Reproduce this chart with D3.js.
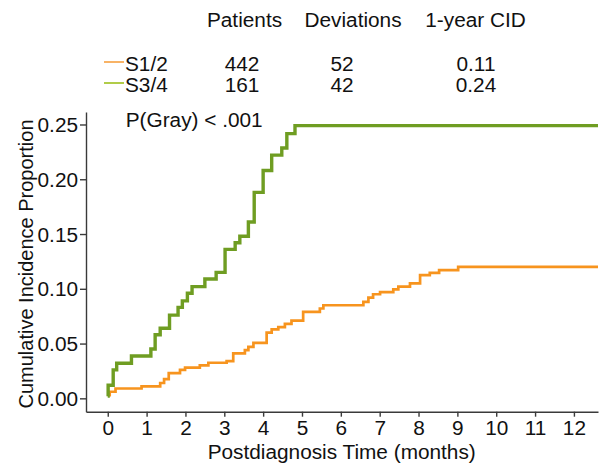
<!DOCTYPE html>
<html>
<head>
<meta charset="utf-8">
<script src="https://cdn.jsdelivr.net/npm/d3@7"></script>
<style>
  body { margin: 0; background: #fff; }
  svg text { font-family: "Liberation Sans", Arial, sans-serif; fill: #111; }
  .axis path, .axis line { stroke: #3a3a3a; stroke-width: 1.4px; }
</style>
</head>
<body>
<div id="chart"></div>
<script>
// cumulative incidence
var groups = ["S1/2", "S3/4"]
var patients = [442, 161]
var deviations = [52, 42]
var cid1y = ["0.11", "0.24"]
var headers = ["Patients", "Deviations", "1-year CID"]

var s12Times = [0, 0.05, 0.2, 0.87, 1.35, 1.45, 1.57, 1.86, 1.99, 2.37, 2.59, 3.06, 3.23, 3.53, 3.62, 3.75, 4.09, 4.22, 4.39, 4.56, 4.73, 5.03, 5.46, 5.55, 6.58, 6.71, 6.83, 7.01, 7.35, 7.48, 7.78, 8.04, 8.29, 8.53, 9.02]
var s12Values = [0.003, 0.006, 0.009, 0.011, 0.014, 0.0176, 0.023, 0.026, 0.028, 0.030, 0.0325, 0.034, 0.041, 0.044, 0.047, 0.0507, 0.060, 0.063, 0.065, 0.068, 0.071, 0.079, 0.082, 0.085, 0.088, 0.092, 0.095, 0.097, 0.0994, 0.102, 0.105, 0.1125, 0.1145, 0.117, 0.120]

var s34Times = [0, 0.01, 0.14, 0.23, 0.61, 1.11, 1.22, 1.35, 1.59, 1.81, 1.92, 2.05, 2.17, 2.50, 2.79, 3.02, 3.28, 3.40, 3.62, 3.77, 4.00, 4.22, 4.48, 4.61, 4.82]
var s34Values = [0.002, 0.012, 0.026, 0.032, 0.0386, 0.045, 0.058, 0.064, 0.076, 0.083, 0.089, 0.096, 0.102, 0.109, 0.115, 0.136, 0.142, 0.148, 0.161, 0.188, 0.208, 0.222, 0.2286, 0.2417, 0.249]

var xTicks = [0, 1, 2, 3, 4, 5, 6, 7, 8, 9, 10, 11, 12]
var yTicks = [0, 0.05, 0.10, 0.15, 0.20, 0.25]

var lineColors = ["#f7941e", "#6f9d22"]
var legendColors = ["#f8ab55", "#a9c735"]

var width = 600, height = 463
var fs = "20px"
var sx = 1.04 // text in the picture is a little wide

const svg = d3.select("#chart").append("svg")
    .attr("width", width)
    .attr("height", height)

var xMax = 12.62
var x = d3.scaleLinear().domain([-0.56, xMax]).range([86, 598])
var y = d3.scaleLinear().domain([-0.0122, 0.2614]).range([411.7, 112])

function label(x0, y0, s, anchor) {
    return svg.append("text")
        .attr("transform", "translate(" + x0 + "," + y0 + ") scale(" + sx + ",1)")
        .attr("text-anchor", anchor || "start")
        .style("font-size", fs)
        .text(s)
}

// axes
svg.append("g")
    .attr("class", "axis")
    .attr("transform", "translate(0,411.7)")
    .call(d3.axisBottom(x).tickValues(xTicks).tickSize(5).tickSizeOuter(0))
    .call(g => g.selectAll("text")
        .attr("y", 23.5).attr("dy", 0)
        .attr("transform", "scale(" + sx + ",1)")
        .style("font-size", fs))

svg.append("g")
    .attr("class", "axis")
    .attr("transform", "translate(86,0)")
    .call(d3.axisLeft(y).tickValues(yTicks).tickSize(6).tickSizeOuter(0).tickFormat(d3.format(".2f")))
    .call(g => g.selectAll("text")
        .attr("x", -8 / sx).attr("dy", "0.35em")
        .attr("transform", "scale(" + sx + ",1)")
        .style("font-size", fs))

svg.selectAll(".axis text").attr("fill", "#111")

// axis titles
label(341.7, 459, "Postdiagnosis Time (months)", "middle")
svg.append("text")
    .attr("transform", "translate(33,264) rotate(-90)")
    .attr("text-anchor", "middle")
    .style("font-size", fs)
    .text("Cumulative Incidence Proportion")

// step curves
var step = d3.line()
    .x(d => x(d[0]))
    .y(d => y(d[1]))
    .curve(d3.curveStepAfter)

var series = [
    d3.zip(s12Times, s12Values),
    d3.zip(s34Times, s34Values)
]
series.forEach(s => s.push([xMax, s[s.length - 1][1]]))

svg.selectAll(".curve")
    .data(series)
    .enter()
    .append("path")
    .attr("class", "curve")
    .attr("d", step)
    .attr("fill", "none")
    .attr("stroke", (d, i) => lineColors[i])
    .attr("stroke-width", (d, i) => i == 1 ? 3.4 : 2.7)

label(125.7, 127, "P(Gray) < .001")

// table legend at top
var headX = [244.5, 353, 475.5]
headers.forEach((h, i) => label(headX[i], 27, h, "middle"))

var rowY = [70.5, 91.5]
groups.forEach((g, i) => {
    svg.append("line")
        .attr("x1", 104).attr("x2", 124)
        .attr("y1", rowY[i] - 8.5).attr("y2", rowY[i] - 8.5)
        .attr("stroke", legendColors[i])
        .attr("stroke-width", 1.8)
    label(125, rowY[i], g)
    label(242, rowY[i], patients[i], "middle")
    label(342, rowY[i], deviations[i], "middle")
    label(476, rowY[i], cid1y[i], "middle")
})
</script>
</body>
</html>
